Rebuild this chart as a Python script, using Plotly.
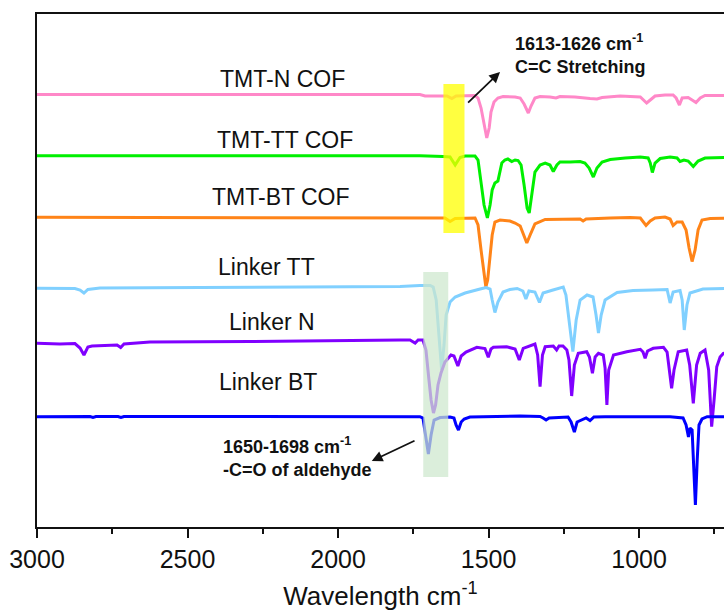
import plotly.graph_objects as go

# ---- data: FTIR spectra (wavenumber cm-1, relative transmittance a.u.) ----
series_names = ["TMT-N COF", "TMT-TT COF", "TMT-BT COF", "Linker TT", "Linker N", "Linker BT"]
series_colors = ["#FF88C8", "#00F000", "#FF8418", "#80D0FF", "#8000FF", "#0000FF"]
stack_offsets = [432, 371, 310, 239, 184, 110]

wn_tmt_n = [3000, 1728, 1711, 1651, 1638, 1622, 1608, 1545, 1535, 1525, 1515, 1506, 1498, 1492, 1482, 1469, 1452,
            1412, 1395, 1382, 1368, 1359, 1346, 1329, 1296, 1276, 1263, 1213, 1163, 1140, 1123, 1063, 996, 983, 975,
            963, 947, 914, 887, 877, 866, 857, 837, 824, 811, 797, 781, 700]
t_tmt_n = [0.5, 0.5, -1, -1, -1, -3.5, -1, -0.5, -3, -13, -30, -43, -33, -17, -7, -3, -1.5,
           -2, -3, -9, -18, -11, -3, -1.5, -2, -3, -1.5, -2, -3.5, -4, -2.5, -1, -2, -6, -8,
           -5, -1, 0, 0, -3, -10, -3, -2.5, -5, -7.5, -3, -0.5, -0.5]

wn_tmt_tt = [3000, 1728, 1651, 1628, 1611, 1595, 1578, 1545, 1535, 1525, 1515, 1504, 1495, 1488, 1479, 1469, 1462,
             1456, 1446, 1436, 1423, 1412, 1402, 1392, 1382, 1372, 1365, 1356, 1346, 1329, 1312, 1296, 1285, 1273,
             1263, 1229, 1196, 1180, 1166, 1152, 1140, 1123, 1096, 1046, 996, 970, 963, 956, 947, 930, 897, 874,
             864, 851, 837, 820, 804, 781, 700]
t_tmt_tt = [0.3, 0.3, -0.5, -1, -9, -1.5, 0, 0, -4, -24, -49, -62, -49, -34, -27, -25, -16,
            -7, -4, -3, -5.5, -4, -4.5, -9, -29, -52, -57, -39, -16, -9, -7, -9, -15.5, -9,
            -6, -6, -5.5, -7, -12, -21, -12, -6, -3.5, -2, -1, -2, -7, -16.5, -7, -2.5, -1, -2,
            -5.5, -4, -5, -10.5, -5, -2, -1.5]

wn_tmt_bt = [3000, 1728, 1645, 1628, 1611, 1545, 1535, 1525, 1515, 1509, 1503, 1495, 1488, 1479, 1462, 1429,
             1412, 1395, 1382, 1373, 1362, 1346, 1312, 1263, 1196, 1186, 1176, 1096, 1030, 996, 987, 977, 963,
             947, 914, 897, 887, 874, 857, 844, 834, 824, 814, 804, 791, 764, 700]
t_tmt_bt = [-0.3, -0.3, -1, -4.5, -1.5, -1, -8, -33, -58, -70, -63, -38, -18, -5, -3, -4,
            -6, -9, -18, -26, -18, -7, -2.5, -2, -2, -4, -2, -1, -0.5, -1, -5, -8.5, -4,
            -1, 0, -2, -8.5, -5, -5, -13, -31, -44.5, -33, -13, -3, -1.5, -1]

wn_linker_tt = [3000, 2874, 2857, 2844, 2831, 2791, 2459, 2126, 1794, 1728, 1694, 1684, 1674, 1665, 1656, 1648,
                1641, 1628, 1611, 1578, 1545, 1528, 1508, 1495, 1488, 1479, 1469, 1452, 1429, 1405, 1386, 1376,
                1366, 1346, 1331, 1319, 1286, 1252, 1243, 1233, 1220, 1209, 1196, 1173, 1153, 1143, 1135, 1126,
                1113, 1073, 1020, 954, 907, 897, 887, 864, 857, 850, 841, 831, 788, 700]
t_linker_tt = [-0.3, -0.5, -2, -5, -1.5, 0, 0.5, 1, 1.5, 2.5, 2.5, 1, -12, -47, -82, -57,
               -27, -14, -9, -5, -2, -1, 0.5, -1, -12, -24.5, -14, -4, -1.5, -0.5, -3, -11,
               -3, -4, -14.5, -5, -2, 1, -7, -32, -63.5, -32, -12, -7, -9, -27, -45, -27,
               -12, -4.5, -2.5, -2, -1.5, -15, -4, -2.5, -12, -42, -17, -5, -1, -0.3]

wn_linker_n = [3000, 2924, 2874, 2857, 2844, 2831, 2817, 2757, 2734, 2722, 2711, 2625, 2292, 1794, 1761, 1744,
               1734, 1718, 1708, 1698, 1691, 1683, 1676, 1668, 1658, 1645, 1625, 1615, 1602, 1591, 1575, 1539,
               1512, 1501, 1492, 1484, 1440, 1412, 1398, 1385, 1346, 1337, 1329, 1321, 1312, 1285, 1274, 1266,
               1253, 1240, 1233, 1224, 1215, 1202, 1174, 1165, 1155, 1146, 1135, 1119, 1113, 1107, 1101, 1085,
               1041, 996, 987, 980, 972, 953, 919, 907, 899, 892, 884, 870, 842, 832, 820, 809, 797, 781, 769,
               759, 751, 742, 731, 720, 700]
t_linker_n = [-0.3, -1, -0.5, -5, -12, -4, -3, -2, -2, -4.5, -1, 1, 1.5, 3, 3, 0,
              3, 3, -7, -37, -57, -70, -62, -42, -30, -19, -12, -13, -23, -13, -9, -4.3,
              -5.5, -14.3, -6, -4.3, -3.7, -6, -17, -5.3, -1, -12, -43.7, -12, -3.7, -3, -7, -3,
              -3, -7, -17, -53, -22, -10.3, -8.7, -14, -30.3, -14, -10.3, -12, -25, -62, -27, -12,
              -8.7, -6.3, -9, -15.3, -8, -5.3, -4.3, -9, -27, -45.3, -27, -8.7, -7, -22, -60.3, -22, -10.3, -7, -27,
              -83.7, -57, -23.7, -14, -10.3, -9]

wn_linker_bt = [3000, 2824, 2814, 2804, 2731, 2721, 2711, 1728, 1718, 1709, 1700, 1691, 1681, 1661, 1628, 1615,
                1608, 1600, 1591, 1581, 1562, 1395, 1329, 1319, 1309, 1299, 1263, 1236, 1226, 1215, 1206, 1193,
                1176, 1163, 1150, 1113, 897, 854, 844, 836, 831, 824, 819, 813, 807, 801, 791, 774, 700]
t_linker_bt = [0.3, 0.5, -0.5, 0.5, 0.5, -0.5, 0.5, 0.3, -1, -18, -37, -18, -3, -0.5, 0, -1,
               -8, -13, -5, -2, 0, 1, 0.5, -1, -3, -1, 0, 0, -5, -15, -5, -3,
               -1, -3.5, 0, 0.3, 0.3, -1, -8, -20, -11, -13, -43, -88, -43, -8, -2, 0.3, 0.3]

spectra_wn = [wn_tmt_n, wn_tmt_tt, wn_tmt_bt, wn_linker_tt, wn_linker_n, wn_linker_bt]
spectra_t = [t_tmt_n, t_tmt_tt, t_tmt_bt, t_linker_tt, t_linker_n, t_linker_bt]

# label anchor positions (wavenumber, a.u.)
label_wn = [2183, 2176, 2188, 2237, 2220, 2233]
label_y = [448, 387, 330, 260, 205, 145]

x_ticks = [3000, 2500, 2000, 1500, 1000]
x_range = [3000, 718]
y_range = [0, 513]

FONT = "Arial, 'Liberation Sans', sans-serif"

fig = go.Figure()
for name, color, off, wn, t in zip(series_names, series_colors, stack_offsets, spectra_wn, spectra_t):
    fig.add_trace(go.Scatter(x=wn, y=[v + off for v in t], mode="lines", name=name,
                             line=dict(color=color, width=3), showlegend=False, hoverinfo="skip"))

for name, xw, yv in zip(series_names, label_wn, label_y):
    fig.add_annotation(x=xw, y=yv, xref="x", yref="y", text=name, showarrow=False,
                       font=dict(family=FONT, size=23, color="#111"), xanchor="center", yanchor="middle")

# highlight bands (drawn above lines, semi-transparent)
fig.add_shape(type="rect", xref="x", yref="y", x0=1650, x1=1580, y0=294, y1=443,
              fillcolor="rgba(255,255,0,0.75)", line=dict(width=0), layer="above")
fig.add_shape(type="rect", xref="x", yref="y", x0=1717, x1=1634, y0=50, y1=255,
              fillcolor="rgba(205,232,205,0.72)", line=dict(width=0), layer="above")

# peak annotations
fig.add_annotation(x=1419, y=473, xref="x", yref="y", xanchor="left", yanchor="middle", align="left",
                   text="<b>1613-1626 cm<sup>-1</sup></b><br><b>C=C Stretching</b>", showarrow=False,
                   font=dict(family=FONT, size=18, color="#111"))
fig.add_annotation(x=1462, y=455, xref="x", yref="y", ax=1573, ay=423, axref="x", ayref="y",
                   text="", showarrow=True, arrowhead=2, arrowsize=1.2, arrowwidth=1.8, arrowcolor="#111")
fig.add_annotation(x=2390, y=70, xref="x", yref="y", xanchor="left", yanchor="middle", align="left",
                   text="<b>1650-1698 cm<sup>-1</sup></b><br><b>-C=O of aldehyde</b>", showarrow=False,
                   font=dict(family=FONT, size=18, color="#111"))
fig.add_annotation(x=1888, y=66, xref="x", yref="y", ax=1741, ay=87, axref="x", ayref="y",
                   text="", showarrow=True, arrowhead=2, arrowsize=1.2, arrowwidth=1.8, arrowcolor="#111")

fig.update_layout(
    width=724, height=611,
    margin=dict(l=37, r=0, t=14, b=84),
    paper_bgcolor="white", plot_bgcolor="white",
    font=dict(family=FONT, color="#111"),
    xaxis=dict(range=x_range, tickvals=x_ticks, ticks="outside", ticklen=9, tickwidth=2, tickcolor="#111",
               showline=True, linecolor="#111", linewidth=2, mirror=True, showgrid=False, zeroline=False,
               tickfont=dict(family=FONT, size=25, color="#111"),
               minor=dict(dtick=250, tick0=0, ticks="outside", ticklen=5, tickwidth=2, tickcolor="#111", showgrid=False),
               title=dict(text="Wavelength cm<sup>-1</sup>", font=dict(family=FONT, size=26, color="#111"), standoff=17)),
    yaxis=dict(range=y_range, showticklabels=False, ticks="", showline=True, linecolor="#111", linewidth=2,
               mirror=False, showgrid=False, zeroline=False),
)

fig.write_html("out.html")
